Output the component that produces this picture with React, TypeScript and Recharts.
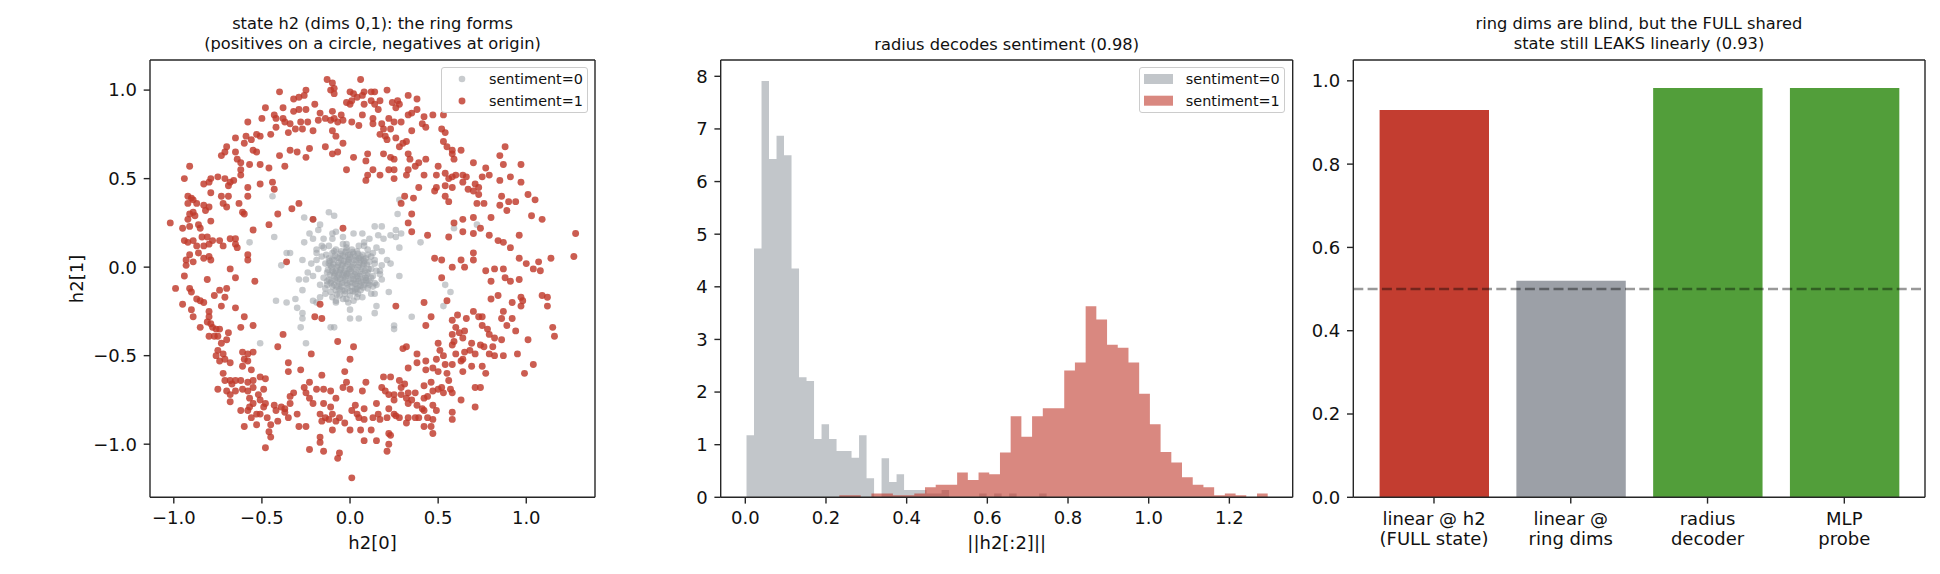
import React from 'react';
import {
  ScatterChart, Scatter, XAxis, YAxis, ComposedChart, Area,
  BarChart, Bar, Cell, ReferenceLine,
} from 'recharts';

const FONT = '"DejaVu Sans", "Liberation Sans", sans-serif';
const INK = '#111111';
const SPINE = '#262626';

const RED = '#c0392b';
const GRAY = '#9aa0a6';

// ---------- panel 1: scatter of h2 dims 0,1 ----------
const negativePoints: [number, number][] = [
  [-0.44, 0.40], [-0.43, 0.17], [-0.57, 0.14], [-0.51, -0.43], [-0.42, -0.19], [-0.36, -0.20], [-0.31, -0.18],
  [-0.30, -0.23], [-0.27, -0.26], [-0.27, -0.29], [-0.28, -0.34], [-0.25, -0.43], [-0.11, -0.34], [-0.09, -0.34],
  [0.00, -0.29], [0.05, -0.29], [0.00, -0.24], [-0.01, -0.20], [-0.04, -0.18], [-0.08, -0.20], [-0.19, -0.20],
  [-0.17, -0.17], [-0.21, -0.19], [-0.39, 0.01], [-0.34, 0.08], [-0.36, 0.08], [-0.26, 0.14], [-0.26, 0.28],
  [-0.21, 0.27], [-0.17, 0.24], [-0.18, 0.21], [-0.12, 0.31], [-0.09, 0.29], [-0.15, 0.16], [-0.10, 0.19],
  [-0.08, 0.20], [-0.04, 0.17], [-0.02, 0.13], [0.02, 0.19], [0.07, 0.19], [0.11, 0.16], [0.08, 0.12],
  [-0.23, 0.19], [-0.21, 0.16], [-0.27, 0.04], [-0.29, -0.07], [-0.27, -0.13], [-0.25, -0.07], [-0.24, -0.03],
  [-0.22, 0.02], [-0.19, 0.04], [-0.19, 0.10], [-0.15, 0.11],
  [0.28, 0.38], [0.27, 0.30], [0.29, 0.19], [0.26, 0.21], [0.26, 0.17], [0.23, 0.18], [0.14, 0.23], [0.18, 0.23],
  [0.18, 0.09], [0.21, 0.04], [0.23, 0.02], [0.28, 0.11], [0.40, 0.14], [0.14, 0.02], [0.15, -0.02], [0.17, -0.02],
  [0.18, -0.07], [0.14, -0.09], [0.28, -0.05], [0.22, -0.14], [0.14, -0.15], [0.15, -0.22], [0.14, -0.26],
  [0.35, -0.28], [0.25, -0.33], [0.25, -0.35], [0.54, -0.10], [0.57, -0.14], [0.53, -0.22], [0.59, 0.22],
  [0.72, 0.24], [0.16, 0.18], [0.19, 0.16],
  [-0.12, 0.05], [-0.10, 0.08], [-0.08, 0.10], [-0.05, 0.09], [-0.02, 0.11], [0.01, 0.10], [0.04, 0.09], [0.07, 0.07],
  [0.09, 0.05], [0.11, 0.03], [-0.14, 0.02], [-0.11, 0.01], [-0.09, 0.04], [-0.06, 0.05], [-0.03, 0.06], [0.00, 0.07],
  [0.03, 0.06], [0.06, 0.04], [0.08, 0.02], [0.12, -0.01], [-0.13, -0.03], [-0.10, -0.02], [-0.07, 0.01], [-0.04, 0.02],
  [-0.01, 0.03], [0.02, 0.02], [0.05, 0.01], [0.07, -0.01], [0.10, -0.03], [0.13, -0.05], [-0.15, -0.06], [-0.12, -0.07],
  [-0.09, -0.05], [-0.06, -0.03], [-0.03, -0.02], [0.00, -0.01], [0.03, -0.03], [0.06, -0.04], [0.09, -0.06], [0.11, -0.08],
  [-0.13, -0.10], [-0.10, -0.11], [-0.07, -0.08], [-0.04, -0.06], [-0.01, -0.05], [0.02, -0.07], [0.05, -0.08], [0.08, -0.10],
  [0.10, -0.12], [0.04, -0.12], [-0.11, -0.14], [-0.08, -0.13], [-0.05, -0.11], [-0.02, -0.09], [0.01, -0.11], [0.03, -0.14],
  [0.06, -0.13], [-0.03, -0.15], [-0.06, -0.16], [0.00, -0.16], [-0.16, 0.06], [-0.18, -0.01], [-0.17, -0.10], [0.14, 0.04],
  [0.15, -0.10], [0.13, 0.08], [-0.08, -0.19], [0.02, -0.19], [0.07, -0.17], [-0.12, 0.12], [-0.04, 0.13], [0.05, 0.12],
  [0.10, 0.10], [-0.02, -0.04], [0.01, 0.00], [-0.05, -0.01], [0.04, -0.05], [-0.08, -0.02], [0.06, 0.06], [-0.01, 0.04],
  [-0.19, 0.08], [-0.21, -0.05], [0.17, -0.04], [0.18, 0.01], [-0.14, -0.15], [0.12, -0.15], [-0.10, 0.16], [0.08, 0.14],
  [-0.16, 0.12], [0.15, 0.11],
  [-0.115, 0.035], [-0.085, 0.065], [-0.055, 0.075], [-0.025, 0.085], [0.015, 0.085], [0.045, 0.075], [0.075, 0.045],
  [0.095, 0.015], [-0.125, -0.015], [-0.095, 0.015], [-0.065, 0.025], [-0.035, 0.035], [-0.005, 0.045], [0.025, 0.04],
  [0.055, 0.025], [0.085, -0.02], [-0.115, -0.045], [-0.085, -0.035], [-0.055, -0.015], [-0.025, 0.005], [0.005, -0.025],
  [0.035, -0.015], [0.065, -0.025], [0.095, -0.045], [-0.105, -0.08], [-0.075, -0.06], [-0.045, -0.045], [-0.015, -0.035],
  [0.015, -0.05], [0.045, -0.065], [0.075, -0.075], [0.1, -0.09], [-0.09, -0.1], [-0.06, -0.095], [-0.03, -0.075],
  [0.0, -0.085], [0.03, -0.095], [0.06, -0.105], [-0.045, -0.13], [-0.015, -0.12], [0.015, -0.135], [0.045, -0.15],
  [-0.075, -0.155], [-0.135, 0.07], [0.12, 0.06], [-0.14, -0.12], [0.13, -0.11], [-0.02, -0.18], [0.04, -0.17], [-0.1, -0.17],
  [-0.10, 0.045], [-0.07, 0.055], [-0.04, 0.065], [-0.01, 0.07], [0.02, 0.075], [0.05, 0.05], [0.08, 0.035],
  [-0.105, 0.0], [-0.075, 0.0], [-0.045, 0.01], [-0.015, 0.015], [0.015, 0.01], [0.045, 0.0], [0.075, 0.01], [0.105, -0.01],
  [-0.095, -0.03], [-0.065, -0.045], [-0.035, -0.03], [-0.005, -0.015], [0.025, -0.04], [0.055, -0.05], [0.085, -0.06],
  [-0.085, -0.07], [-0.055, -0.065], [-0.025, -0.055], [0.005, -0.065], [0.035, -0.08], [0.065, -0.085], [0.09, -0.075],
  [-0.075, -0.11], [-0.045, -0.09], [-0.015, -0.1], [0.015, -0.09], [0.045, -0.11], [0.075, -0.115], [-0.03, -0.135],
  [0.0, -0.135], [-0.06, -0.125], [0.03, -0.125], [-0.11, -0.09], [0.11, -0.1], [-0.12, 0.02], [0.1, 0.07], [-0.09, 0.09],
  [0.0, 0.055], [-0.05, 0.04], [0.035, 0.04], [-0.13, -0.08], [0.12, -0.06], [-0.02, 0.095],
];

const positivePoints: [number, number][] = [
  [-0.13, 1.06], [-0.10, 1.04], [0.06, 1.06], [-0.09, 1.01], [-0.11, 1.00], [0.00, 0.99], [-0.40, 0.99], [-0.32, 0.95],
  [-0.29, 0.96], [-0.26, 0.97], [-0.25, 1.00], [-0.09, 0.98], [0.02, 0.98], [0.04, 0.96], [0.07, 0.97], [0.08, 0.99],
  [0.12, 0.99], [0.12, 0.94], [-0.48, 0.90], [-0.38, 0.90], [-0.32, 0.88], [-0.29, 0.89], [-0.25, 0.89], [-0.20, 0.92],
  [-0.17, 0.87], [-0.10, 0.88], [-0.05, 0.86], [-0.02, 0.93], [0.00, 0.92], [0.01, 0.94], [0.08, 0.92], [0.07, 0.86],
  [0.13, 0.84], [0.13, 0.81], [0.01, 0.82], [0.05, 0.80], [-0.11, 0.83], [-0.09, 0.84], [-0.07, 0.82], [-0.04, 0.83],
  [-0.14, 0.84], [-0.18, 0.83], [-0.24, 0.82], [-0.28, 0.82], [-0.34, 0.81], [-0.37, 0.82], [-0.38, 0.84], [-0.42, 0.84],
  [-0.43, 0.86], [-0.50, 0.84], [-0.58, 0.82], [-0.42, 0.79], [-0.35, 0.76], [-0.31, 0.78], [-0.27, 0.78], [-0.21, 0.77],
  [-0.10, 0.77], [-0.08, 0.74], [-0.04, 0.70], [-0.14, 0.68], [-0.10, 0.64], [-0.07, 0.65], [0.02, 0.62], [0.10, 0.64],
  [0.09, 0.60], [0.13, 0.55], [0.10, 0.52], [0.09, 0.49], [-0.02, 0.55], [-0.23, 0.67], [-0.25, 0.62], [-0.30, 0.65],
  [-0.34, 0.66], [-0.40, 0.63], [-0.37, 0.57], [-0.45, 0.75], [-0.51, 0.74], [-0.53, 0.75], [-0.56, 0.72], [-0.59, 0.74],
  [-0.65, 0.73], [-0.60, 0.70], [-0.55, 0.66], [-0.53, 0.65], [-0.70, 0.68], [-0.71, 0.65], [-0.73, 0.63], [-0.65, 0.65],
  [-0.64, 0.61], [-0.62, 0.59], [-0.62, 0.55], [-0.62, 0.52], [-0.57, 0.58], [-0.51, 0.58], [-0.46, 0.56], [-0.44, 0.48],
  [-0.43, 0.44], [-0.51, 0.47], [-0.58, 0.45], [-0.58, 0.40], [-0.61, 0.31], [-0.63, 0.36], [-0.69, 0.40], [-0.70, 0.34],
  [-0.72, 0.36], [-0.73, 0.40], [-0.69, 0.46], [-0.68, 0.48], [-0.66, 0.49], [-0.71, 0.50], [-0.75, 0.51], [-0.79, 0.50],
  [-0.80, 0.48], [-0.83, 0.47], [-0.79, 0.42], [-0.91, 0.57], [-0.94, 0.50], [-0.92, 0.40], [-0.90, 0.39], [-0.89, 0.38],
  [-0.92, 0.36], [-0.87, 0.36], [-0.83, 0.35], [-0.80, 0.34], [-0.82, 0.32], [-0.89, 0.31], [-0.91, 0.30], [-0.88, 0.29],
  [-0.92, 0.27], [-1.02, 0.25], [-0.95, 0.22], [-0.91, 0.23], [-0.86, 0.24], [-0.85, 0.22], [-0.79, 0.26], [-0.81, 0.17],
  [-0.84, 0.17], [-0.89, 0.15], [-0.94, 0.15], [-0.92, 0.14], [-0.87, 0.12], [-0.83, 0.12], [-0.80, 0.13], [-0.78, 0.15],
  [-0.74, 0.15], [-0.68, 0.16], [-0.65, 0.16], [-0.65, 0.13], [-0.64, 0.11], [-0.72, 0.12], [-0.86, 0.08], [-0.91, 0.07],
  [-0.93, 0.04], [-0.89, 0.03], [-0.93, 0.01], [-0.83, 0.05], [-0.80, 0.06], [-0.79, 0.04], [-0.58, 0.07], [-0.58, 0.04],
  [-0.68, -0.01], [-0.65, -0.06], [-0.81, -0.07], [-0.94, -0.05], [-0.99, -0.12], [-0.91, -0.12], [-0.90, -0.14], [-0.87, -0.18],
  [-0.85, -0.19], [-0.83, -0.20], [-0.95, -0.21], [-0.77, -0.16], [-0.74, -0.13], [-0.70, -0.12], [-0.71, -0.17], [-0.73, -0.22],
  [-0.65, -0.23], [-0.90, -0.24], [-0.89, -0.28], [-0.80, -0.25], [-0.80, -0.28], [-0.81, -0.31], [-0.79, -0.32], [-0.85, -0.34],
  [-0.78, -0.34], [-0.76, -0.35], [-0.74, -0.35], [-0.69, -0.37], [-0.80, -0.39], [-0.77, -0.39], [-0.75, -0.39], [-0.70, -0.41],
  [-0.73, -0.43], [-0.75, -0.47], [-0.76, -0.50], [-0.72, -0.49], [-0.74, -0.53], [-0.68, -0.54], [-0.71, -0.52], [-0.61, -0.48],
  [-0.60, -0.52], [-0.58, -0.49], [-0.58, -0.53], [-0.55, -0.48], [-0.61, -0.56], [-0.56, -0.58], [-0.60, -0.28], [-0.62, -0.34],
  [-0.55, -0.33], [-0.54, -0.08], [-0.55, 0.21], [-0.46, 0.24], [-0.41, 0.30], [-0.60, 0.30], [-0.33, 0.33], [-0.29, 0.36],
  [-0.21, 0.27], [-0.04, 0.22], [-0.36, 0.03], [-0.41, -0.45], [-0.38, -0.38], [-0.35, -0.54], [-0.35, -0.59], [-0.28, -0.58],
  [-0.22, -0.49], [-0.17, -0.21], [-0.20, -0.28], [-0.16, -0.29], [-0.07, -0.42], [0.00, -0.52], [-0.03, -0.59], [0.02, -0.45],
  [-0.16, -0.61], [-0.23, -0.65], [-0.19, -0.69], [-0.15, -0.69], [-0.11, -0.70], [-0.08, -0.74], [-0.04, -0.68], [-0.02, -0.65],
  [0.00, -0.69], [0.07, -0.70], [0.09, -0.65], [-0.25, -0.71], [-0.23, -0.74], [-0.21, -0.77], [-0.26, -0.68], [-0.32, -0.71],
  [-0.34, -0.73], [-0.34, -0.77], [-0.37, -0.80], [-0.39, -0.79], [-0.42, -0.81], [-0.43, -0.78], [-0.48, -0.77], [-0.49, -0.79],
  [-0.51, -0.75], [-0.55, -0.77], [-0.57, -0.79], [-0.58, -0.81], [-0.53, -0.83], [-0.56, -0.85], [-0.51, -0.83], [-0.47, -0.85],
  [-0.45, -0.89], [-0.41, -0.87], [-0.35, -0.85], [-0.30, -0.83], [-0.37, -0.82], [-0.57, -0.74], [-0.58, -0.70], [-0.61, -0.69],
  [-0.65, -0.70], [-0.65, -0.64], [-0.68, -0.64], [-0.71, -0.64], [-0.72, -0.60], [-0.67, -0.66], [-0.62, -0.64], [-0.58, -0.65],
  [-0.55, -0.68], [-0.49, -0.69], [-0.48, -0.63], [-0.51, -0.62], [-0.55, -0.64], [-0.52, -0.72], [-0.75, -0.69], [-0.70, -0.70],
  [-0.68, -0.72], [-0.68, -0.76], [-0.62, -0.81], [-0.60, -0.90], [-0.53, -0.89], [-0.46, -0.93], [-0.45, -0.96], [-0.48, -1.02],
  [-0.29, -0.90], [-0.25, -0.90], [-0.17, -0.96], [-0.17, -0.99], [-0.23, -1.03], [-0.15, -1.04], [-0.06, -1.05], [-0.07, -1.08],
  [-0.10, -0.92], [-0.08, -0.87], [-0.06, -0.85], [-0.03, -0.88], [0.00, -0.92], [0.01, -0.81], [0.03, -0.78], [0.04, -0.83],
  [0.08, -0.80], [0.05, -0.85], [0.08, -0.86], [0.06, -0.92], [0.08, -0.98], [0.12, -0.92], [0.13, -0.85], [-0.17, -0.83],
  [-0.16, -0.87], [-0.14, -0.85], [-0.12, -0.86], [-0.10, -0.83], [0.01, -1.19], [-0.15, -0.77], [-0.11, -0.79],
  [0.14, 0.99], [0.21, 1.00], [0.14, 0.92], [0.16, 0.89], [0.17, 0.94], [0.24, 0.93], [0.27, 0.94], [0.28, 0.92],
  [0.26, 0.90], [0.33, 0.97], [0.38, 0.95], [0.38, 0.89], [0.35, 0.87], [0.33, 0.86], [0.42, 0.85], [0.47, 0.86],
  [0.53, 0.86], [0.22, 0.84], [0.25, 0.82], [0.29, 0.82], [0.18, 0.81], [0.19, 0.78], [0.23, 0.78], [0.17, 0.75],
  [0.20, 0.74], [0.21, 0.72], [0.26, 0.73], [0.28, 0.68], [0.30, 0.70], [0.32, 0.71], [0.35, 0.77], [0.41, 0.81],
  [0.43, 0.79], [0.52, 0.78], [0.54, 0.76], [0.53, 0.71], [0.55, 0.68], [0.58, 0.66], [0.63, 0.66], [0.58, 0.64],
  [0.59, 0.61], [0.33, 0.64], [0.34, 0.61], [0.39, 0.59], [0.37, 0.57], [0.33, 0.55], [0.32, 0.52], [0.25, 0.50],
  [0.17, 0.52], [0.22, 0.55], [0.25, 0.55], [0.19, 0.64], [0.23, 0.62], [0.25, 0.61], [0.42, 0.52], [0.43, 0.61],
  [0.50, 0.57], [0.49, 0.52], [0.54, 0.53], [0.56, 0.50], [0.58, 0.51], [0.60, 0.52], [0.64, 0.52], [0.66, 0.51],
  [0.64, 0.48], [0.70, 0.59], [0.77, 0.56], [0.79, 0.52], [0.75, 0.51], [0.71, 0.47], [0.73, 0.45], [0.70, 0.43],
  [0.73, 0.41], [0.76, 0.36], [0.72, 0.36], [0.67, 0.44], [0.58, 0.45], [0.54, 0.46], [0.54, 0.40], [0.56, 0.37],
  [0.49, 0.45], [0.48, 0.43], [0.39, 0.45], [0.36, 0.39], [0.31, 0.40], [0.29, 0.36], [0.35, 0.30], [0.33, 0.25],
  [0.35, 0.20], [0.44, 0.18], [0.56, 0.17], [0.59, 0.25], [0.64, 0.27], [0.64, 0.20], [0.70, 0.28], [0.70, 0.19],
  [0.74, 0.22], [0.80, 0.28], [0.79, 0.18], [0.84, 0.15], [0.87, 0.14], [0.91, 0.11], [0.96, 0.18], [1.03, 0.29],
  [1.09, 0.27], [0.94, 0.37], [0.90, 0.37], [0.89, 0.32], [0.85, 0.35], [0.86, 0.40], [0.91, 0.51], [0.85, 0.49],
  [0.97, 0.48], [0.97, 0.58], [1.01, 0.41], [1.05, 0.38], [0.85, 0.63], [0.88, 0.68], [0.87, 0.58], [0.48, 0.05],
  [0.52, 0.04], [0.58, 0.00], [0.63, 0.04], [0.65, 0.00], [0.70, 0.08], [0.70, 0.04], [0.77, -0.02], [0.82, -0.01],
  [0.87, -0.01], [0.80, -0.08], [0.88, -0.06], [0.91, -0.08], [0.96, -0.07], [0.96, 0.05], [1.00, 0.02], [1.04, -0.01],
  [1.07, 0.03], [1.08, -0.02], [1.14, 0.05], [1.27, 0.06], [1.28, 0.19], [0.52, -0.06], [0.42, -0.20], [0.26, -0.22],
  [0.46, -0.28], [0.43, -0.33], [0.55, -0.19], [0.58, -0.30], [0.61, -0.27], [0.66, -0.29], [0.70, -0.25], [0.73, -0.28],
  [0.75, -0.28], [0.80, -0.18], [0.84, -0.16], [0.87, -0.25], [0.86, -0.29], [0.92, -0.29], [0.89, -0.33], [0.92, -0.20],
  [0.97, -0.17], [0.98, -0.19], [0.97, -0.22], [1.09, -0.16], [1.12, -0.17], [1.12, -0.22], [0.94, -0.36], [1.01, -0.41],
  [1.15, -0.34], [1.16, -0.39], [0.95, -0.49], [1.04, -0.55], [0.99, -0.60], [0.75, -0.33], [0.78, -0.35], [0.79, -0.38],
  [0.74, -0.44], [0.76, -0.45], [0.81, -0.45], [0.82, -0.40], [0.86, -0.41], [0.79, -0.49], [0.82, -0.50], [0.87, -0.50],
  [0.60, -0.34], [0.58, -0.38], [0.62, -0.37], [0.65, -0.36], [0.64, -0.40], [0.59, -0.42], [0.58, -0.44], [0.69, -0.43],
  [0.68, -0.47], [0.65, -0.48], [0.60, -0.49], [0.64, -0.52], [0.71, -0.49], [0.50, -0.43], [0.51, -0.47], [0.53, -0.50],
  [0.49, -0.52], [0.47, -0.57], [0.43, -0.53], [0.43, -0.58], [0.50, -0.59], [0.54, -0.55], [0.58, -0.55], [0.63, -0.53],
  [0.64, -0.59], [0.69, -0.56], [0.75, -0.56], [0.77, -0.60], [0.55, -0.60], [0.56, -0.64], [0.52, -0.68], [0.50, -0.69],
  [0.46, -0.65], [0.47, -0.70], [0.44, -0.73], [0.42, -0.74], [0.37, -0.71], [0.33, -0.71], [0.31, -0.66], [0.29, -0.68],
  [0.28, -0.64], [0.23, -0.62], [0.19, -0.62], [0.18, -0.68], [0.20, -0.70], [0.22, -0.72], [0.25, -0.72], [0.25, -0.75],
  [0.29, -0.72], [0.32, -0.74], [0.33, -0.77], [0.35, -0.75], [0.38, -0.78], [0.41, -0.80], [0.42, -0.81], [0.47, -0.78],
  [0.49, -0.81], [0.44, -0.85], [0.47, -0.86], [0.46, -0.90], [0.42, -0.90], [0.47, -0.94], [0.39, -0.85], [0.37, -0.85],
  [0.33, -0.85], [0.32, -0.88], [0.28, -0.85], [0.26, -0.84], [0.25, -0.83], [0.22, -0.80], [0.21, -0.85], [0.17, -0.86],
  [0.16, -0.83], [0.15, -0.77], [0.22, -0.94], [0.23, -0.95], [0.22, -1.00], [0.21, -1.04], [0.15, -0.98], [0.58, -0.82],
  [0.58, -0.86], [0.63, -0.75], [0.71, -0.68], [0.74, -0.68], [0.71, -0.79], [0.57, -0.69], [0.58, -0.71], [0.53, -0.71],
  [0.32, -0.45], [0.30, -0.46], [0.38, -0.49], [0.33, -0.57], [0.38, -0.54], [0.42, -0.67],
];

const scatterXTicks = [-1, -0.5, 0, 0.5, 1];
const scatterYTicks = [-1, -0.5, 0, 0.5, 1];

// ---------- panel 2: radius histograms (density) ----------
const grayEdges = [
  0.003, 0.0216, 0.0402, 0.0588, 0.0774, 0.096, 0.1146, 0.1332, 0.1518, 0.1704, 0.189,
  0.2076, 0.2262, 0.2448, 0.2634, 0.282, 0.3006, 0.3192, 0.3378, 0.3564, 0.375,
  0.3936, 0.4122, 0.4308, 0.4494, 0.468, 0.4866, 0.5052, 0.5238, 0.5424, 0.561,
  0.5796, 0.5982, 0.6168, 0.6354, 0.654, 0.6726, 0.6912, 0.7098, 0.7284, 0.747,
];
const grayHeights = [
  1.18, 4.73, 7.91, 6.43, 6.87, 6.50, 4.35, 2.28, 2.21, 1.11,
  1.39, 1.11, 0.88, 0.88, 0.75, 1.18, 0.36, 0, 0.74, 0.29,
  0.44, 0.14, 0.14, 0.14, 0.07, 0.07, 0.14, 0, 0, 0,
  0, 0.07, 0, 0.07, 0, 0.07, 0, 0, 0, 0.07,
];
const redEdges = [
  0.233, 0.2596, 0.2861, 0.3127, 0.3392, 0.3658, 0.3923, 0.4189, 0.4454, 0.472, 0.4985,
  0.5251, 0.5516, 0.5782, 0.6047, 0.6313, 0.6578, 0.6844, 0.7109, 0.7375, 0.764,
  0.7906, 0.8171, 0.8437, 0.8702, 0.8968, 0.9233, 0.9499, 0.9764, 1.003, 1.0295,
  1.0561, 1.0826, 1.1092, 1.1357, 1.1623, 1.1888, 1.2154, 1.2419, 1.2685, 1.295,
];
const redHeights = [
  0.04, 0.04, 0, 0.07, 0.07, 0.04, 0.04, 0.07, 0.19, 0.24,
  0.24, 0.47, 0.33, 0.47, 0.44, 0.85, 1.54, 1.15, 1.54, 1.69,
  1.69, 2.41, 2.56, 3.63, 3.38, 2.90, 2.84, 2.56, 1.97, 1.39,
  0.86, 0.66, 0.38, 0.24, 0.19, 0.04, 0.07, 0.04, 0, 0.07,
];
const histXTicks = [0, 0.2, 0.4, 0.6, 0.8, 1.0, 1.2];
const histYTicks = [0, 1, 2, 3, 4, 5, 6, 7, 8];

// ---------- panel 3: probe accuracies ----------
const barLabels = ['linear @ h2\n(FULL state)', 'linear @\nring dims', 'radius\ndecoder', 'MLP\nprobe'];
const barValues = [0.93, 0.52, 0.983, 0.983];
const barColors = ['#c33d30', '#9ca0a7', '#529e3a', '#529e3a'];
const barYTicks = [0, 0.2, 0.4, 0.6, 0.8, 1.0];
const chanceLevel = 0.5;

// ---------- derived tables ----------
const negData = negativePoints.map(([x, y]) => ({ x, y }));
const posData = positivePoints.map(([x, y]) => ({ x, y }));

function stepValue(edges: number[], heights: number[], x: number): number {
  for (let i = 0; i < heights.length; i++) {
    if (x >= edges[i] - 1e-9 && x < edges[i + 1] - 1e-9) return heights[i];
  }
  return 0;
}
const allEdges = Array.from(new Set([...grayEdges, ...redEdges])).sort((a, b) => a - b);
const histData = allEdges.map((x) => ({
  x,
  g: stepValue(grayEdges, grayHeights, x),
  r: stepValue(redEdges, redHeights, x),
}));

const barData = barLabels.map((name, i) => ({ name, value: barValues[i] }));

const fmtSigned = (v: number) => (v < 0 ? '\u2212' : '') + Math.abs(v).toFixed(1);
const fmt1 = (v: number) => v.toFixed(1);
const fmt0 = (v: number) => String(v);

const tickStyle = { fontSize: 18, fill: INK, fontFamily: FONT };
const axisLine = { stroke: SPINE, strokeWidth: 1.4 };
const tickLine = { stroke: SPINE, strokeWidth: 1.4 };

const Dot = (color: string, opacity: number, r: number) => (props: any) => {
  const { cx, cy } = props;
  if (cx == null || cy == null) return <g />;
  return <circle cx={cx} cy={cy} r={r} fill={color} fillOpacity={opacity} />;
};
const grayDot = Dot(GRAY, 0.55, 3.3);
const redDot = Dot(RED, 0.82, 3.45);

const BarTick = (props: any) => {
  const { x, y, payload } = props;
  const lines = String(payload.value).split('\n');
  return (
    <text x={x} y={y} textAnchor="middle" fontSize={18} fontFamily={FONT} fill={INK}>
      {lines.map((l, i) => (
        <tspan key={i} x={x} dy={i === 0 ? 19.4 : 20}>{l}</tspan>
      ))}
    </text>
  );
};

const abs = (left: number, top: number): React.CSSProperties => ({ position: 'absolute', left, top });

const Title = ({ cx, top, lines }: { cx: number; top: number; lines: string[] }) => (
  <div style={{
    position: 'absolute', left: cx - 300, top, width: 600, textAlign: 'center',
    fontFamily: FONT, fontSize: 16.25, lineHeight: '20px', color: INK, whiteSpace: 'pre',
  }}>
    {lines.map((l, i) => <div key={i}>{l}</div>)}
  </div>
);

const AxisLabel = ({ cx, cy, text, rotate }: { cx: number; cy: number; text: string; rotate?: boolean }) => (
  <div style={{
    position: 'absolute', left: cx, top: cy, transform: `translate(-50%, -50%)${rotate ? ' rotate(-90deg)' : ''}`,
    fontFamily: FONT, fontSize: 18, lineHeight: '20px', color: INK, whiteSpace: 'nowrap',
  }}>{text}</div>
);

const legendBox: React.CSSProperties = {
  position: 'absolute', border: '1.3px solid #cccccc', borderRadius: 3,
  background: 'rgba(255,255,255,0.8)', boxSizing: 'border-box',
};
const legendText: React.CSSProperties = {
  position: 'absolute', fontFamily: FONT, fontSize: 14.4, lineHeight: '16px', color: INK, whiteSpace: 'nowrap',
};

export default function App() {
  return (
    <div style={{ position: 'absolute', left: 0, top: 0, width: 1940, height: 574, background: '#fff', overflow: 'hidden' }}>
      {/* Panel 1 */}
      <div style={abs(0, 0)}>
        <ScatterChart width={640} height={574} margin={{ top: 59, right: 44, bottom: 46.7, left: 90 }}>
          <XAxis xAxisId="b" type="number" dataKey="x" domain={[-1.135, 1.39]} allowDataOverflow
            ticks={scatterXTicks} interval={0} tickFormatter={fmtSigned} height={30}
            tickSize={6.3} tickMargin={8} tick={tickStyle} axisLine={axisLine} tickLine={tickLine} />
          <XAxis xAxisId="t" orientation="top" type="number" domain={[-1.135, 1.39]} allowDataOverflow
            height={1} tick={false} tickLine={false} axisLine={axisLine} />
          <YAxis yAxisId="l" type="number" dataKey="y" domain={[-1.30, 1.17]} allowDataOverflow
            ticks={scatterYTicks} interval={0} tickFormatter={fmtSigned} width={60}
            tickSize={6.3} tickMargin={6.7} tick={tickStyle} axisLine={axisLine} tickLine={tickLine} />
          <YAxis yAxisId="r" orientation="right" type="number" domain={[-1.30, 1.17]} allowDataOverflow
            width={1} tick={false} tickLine={false} axisLine={axisLine} />
          <Scatter xAxisId="b" yAxisId="l" name="sentiment=0" data={negData} shape={grayDot} isAnimationActive={false} />
          <Scatter xAxisId="b" yAxisId="l" name="sentiment=1" data={posData} shape={redDot} isAnimationActive={false} />
        </ScatterChart>
      </div>
      <Title cx={372.5} top={14} lines={['state h2 (dims 0,1): the ring forms', '(positives on a circle, negatives at origin)']} />
      <AxisLabel cx={372.5} cy={543} text="h2[0]" />
      <AxisLabel cx={76.6} cy={278.6} text="h2[1]" rotate />
      <div style={{ ...legendBox, left: 441, top: 67, width: 147, height: 46 }} />
      <svg style={{ position: 'absolute', left: 455, top: 72 }} width={14} height={36}>
        <circle cx={7} cy={7} r={3.3} fill={GRAY} fillOpacity={0.55} />
        <circle cx={7} cy={29} r={3.45} fill={RED} fillOpacity={0.82} />
      </svg>
      <div style={{ ...legendText, left: 489, top: 71 }}>sentiment=0</div>
      <div style={{ ...legendText, left: 489, top: 93 }}>sentiment=1</div>

      {/* Panel 2 */}
      <div style={abs(640, 0)}>
        <ComposedChart width={660} height={574} data={histData} margin={{ top: 59, right: 6.3, bottom: 46.7, left: 20.7 }}>
          <XAxis xAxisId="b" type="number" dataKey="x" domain={[-0.061, 1.357]} allowDataOverflow
            ticks={histXTicks} interval={0} tickFormatter={fmt1} height={30}
            tickSize={6.3} tickMargin={8} tick={tickStyle} axisLine={axisLine} tickLine={tickLine} />
          <XAxis xAxisId="t" orientation="top" type="number" domain={[-0.061, 1.357]} allowDataOverflow
            height={1} tick={false} tickLine={false} axisLine={axisLine} />
          <YAxis yAxisId="l" type="number" domain={[0, 8.31]} allowDataOverflow
            ticks={histYTicks} interval={0} tickFormatter={fmt0} width={60}
            tickSize={6.3} tickMargin={6.7} tick={tickStyle} axisLine={axisLine} tickLine={tickLine} />
          <YAxis yAxisId="r" orientation="right" type="number" domain={[0, 8.31]} allowDataOverflow
            width={1} tick={false} tickLine={false} axisLine={axisLine} />
          <Area xAxisId="b" yAxisId="l" type="stepAfter" dataKey="g" name="sentiment=0" fill={GRAY} fillOpacity={0.6}
            stroke="none" dot={false} activeDot={false} isAnimationActive={false} />
          <Area xAxisId="b" yAxisId="l" type="stepAfter" dataKey="r" name="sentiment=1" fill={RED} fillOpacity={0.6}
            stroke="none" dot={false} activeDot={false} isAnimationActive={false} />
        </ComposedChart>
      </div>
      <Title cx={1006.7} top={35} lines={['radius decodes sentiment (0.98)']} />
      <AxisLabel cx={1006.7} cy={543} text="||h2[:2]||" />
      <div style={{ ...legendBox, left: 1138.5, top: 67, width: 146.5, height: 46 }} />
      <svg style={{ position: 'absolute', left: 1144.3, top: 72 }} width={29} height={34}>
        <rect x={0} y={2} width={29} height={10} fill={GRAY} fillOpacity={0.6} />
        <rect x={0} y={23.7} width={29} height={10} fill={RED} fillOpacity={0.6} />
      </svg>
      <div style={{ ...legendText, left: 1185.8, top: 71 }}>sentiment=0</div>
      <div style={{ ...legendText, left: 1185.8, top: 92.7 }}>sentiment=1</div>

      {/* Panel 3 */}
      <div style={abs(1300, 0)}>
        <BarChart width={640} height={574} data={barData} margin={{ top: 59, right: 14, bottom: 26.7, left: 3.3 }}>
          <XAxis dataKey="name" type="category" height={50} padding={{ left: 12.3, right: 12.3 }}
            interval={0} tickSize={6.3} tickMargin={2} tick={<BarTick />} axisLine={axisLine} tickLine={tickLine} />
          <XAxis xAxisId="t" orientation="top" type="number" domain={[0, 1]} allowDataOverflow
            height={1} tick={false} tickLine={false} axisLine={axisLine} />
          <YAxis type="number" domain={[0, 1.05]} allowDataOverflow ticks={barYTicks} interval={0}
            tickFormatter={fmt1} width={50} tickSize={6.3} tickMargin={6.7} tick={tickStyle}
            axisLine={axisLine} tickLine={tickLine} />
          <YAxis yAxisId="r" orientation="right" type="number" domain={[0, 1.05]} allowDataOverflow
            width={1} tick={false} tickLine={false} axisLine={axisLine} />
          <Bar dataKey="value" barSize={109.4} isAnimationActive={false}>
            {barData.map((d, i) => <Cell key={d.name} fill={barColors[i]} />)}
          </Bar>
          <ReferenceLine y={chanceLevel} stroke="#000" strokeOpacity={0.4} strokeWidth={2.5} strokeDasharray="10 4.3" />
        </BarChart>
      </div>
      <Title cx={1639} top={14} lines={['ring dims are blind, but the FULL shared', 'state still LEAKS linearly (0.93)']} />
    </div>
  );
}
